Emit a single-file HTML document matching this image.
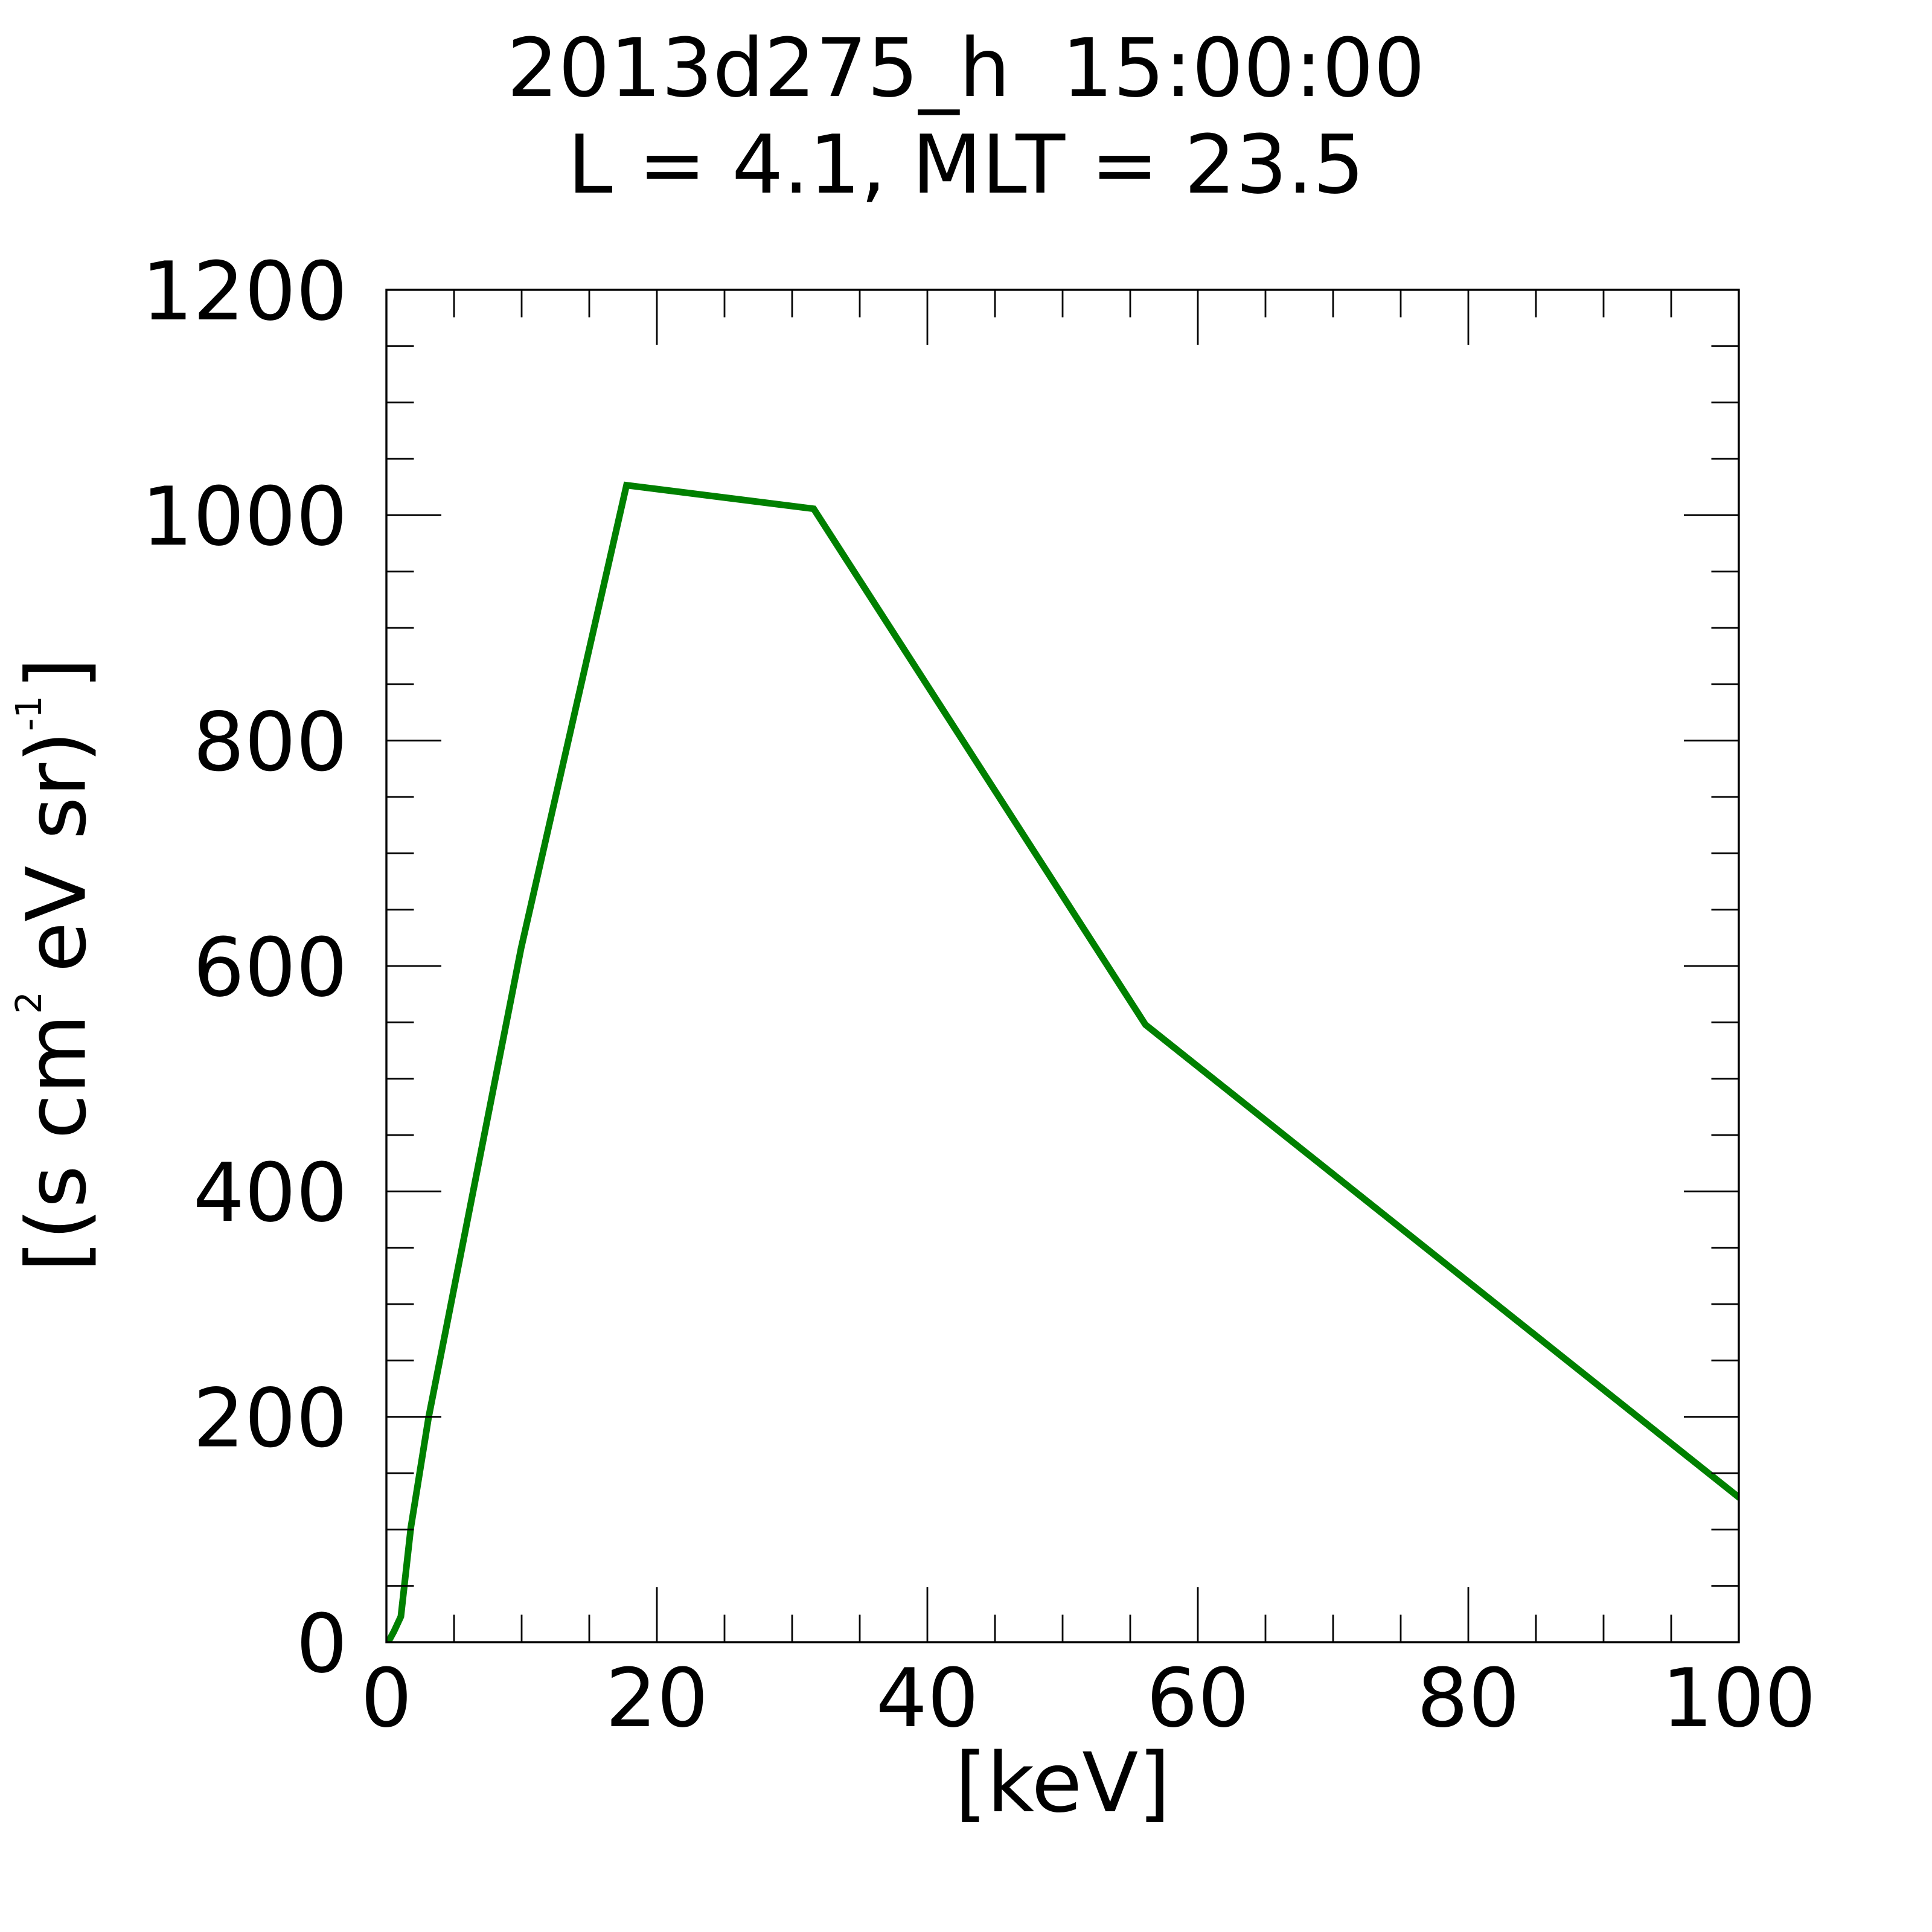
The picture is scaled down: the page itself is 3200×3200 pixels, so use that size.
<!DOCTYPE html>
<html>
<head>
<meta charset="utf-8">
<style>
html,body{margin:0;padding:0;background:#fff;}
svg{display:block;}
text{font-family:"DejaVu Sans","Liberation Sans",sans-serif;fill:#000;}
</style>
</head>
<body>
<svg xmlns="http://www.w3.org/2000/svg" width="3200" height="3200" viewBox="0 0 3200 3200">
<rect x="0" y="0" width="3200" height="3200" fill="#fff"/>

<!-- Title -->
<text x="1600" y="159" font-size="134" text-anchor="middle" style="white-space:pre">2013d275_h  15:00:00</text>
<text x="1600" y="319" font-size="134" text-anchor="middle" style="white-space:pre">L = 4.1, MLT = 23.5</text>

<!-- Data line -->
<defs>
<clipPath id="pc"><rect x="640" y="480" width="2240" height="2240"/></clipPath>
</defs>
<polyline clip-path="url(#pc)" fill="none" stroke="#008000" stroke-width="11" stroke-linejoin="miter"
points="640,2720 645,2716 652.6,2702 664,2677.5 680.5,2530 710,2347 863,1571 1037.7,803.7 1347.7,842.7 1897.3,1697.3 2885,2484"/>

<!-- Axes box -->
<rect x="640" y="480" width="2240" height="2240" fill="none" stroke="#000" stroke-width="3.4"/>

<!-- Minor ticks -->
<path fill="none" stroke="#000" stroke-width="2.8" d="
M752 2720v-45.5 M864 2720v-45.5 M976 2720v-45.5 M1200 2720v-45.5 M1312 2720v-45.5 M1424 2720v-45.5 M1648 2720v-45.5 M1760 2720v-45.5 M1872 2720v-45.5 M2096 2720v-45.5 M2208 2720v-45.5 M2320 2720v-45.5 M2544 2720v-45.5 M2656 2720v-45.5 M2768 2720v-45.5
M752 480v45.5 M864 480v45.5 M976 480v45.5 M1200 480v45.5 M1312 480v45.5 M1424 480v45.5 M1648 480v45.5 M1760 480v45.5 M1872 480v45.5 M2096 480v45.5 M2208 480v45.5 M2320 480v45.5 M2544 480v45.5 M2656 480v45.5 M2768 480v45.5
M640 2626.67h45.5 M640 2533.33h45.5 M640 2440h45.5 M640 2253.33h45.5 M640 2160h45.5 M640 2066.67h45.5 M640 1880h45.5 M640 1786.67h45.5 M640 1693.33h45.5 M640 1506.67h45.5 M640 1413.33h45.5 M640 1320h45.5 M640 1133.33h45.5 M640 1040h45.5 M640 946.67h45.5 M640 760h45.5 M640 666.67h45.5 M640 573.33h45.5
M2880 2626.67h-45.5 M2880 2533.33h-45.5 M2880 2440h-45.5 M2880 2253.33h-45.5 M2880 2160h-45.5 M2880 2066.67h-45.5 M2880 1880h-45.5 M2880 1786.67h-45.5 M2880 1693.33h-45.5 M2880 1506.67h-45.5 M2880 1413.33h-45.5 M2880 1320h-45.5 M2880 1133.33h-45.5 M2880 1040h-45.5 M2880 946.67h-45.5 M2880 760h-45.5 M2880 666.67h-45.5 M2880 573.33h-45.5
"/>

<!-- Major ticks -->
<path fill="none" stroke="#000" stroke-width="2.8" d="
M1088 2720v-91 M1536 2720v-91 M1984 2720v-91 M2432 2720v-91
M1088 480v91 M1536 480v91 M1984 480v91 M2432 480v91
M640 2346.67h91 M640 1973.33h91 M640 1600h91 M640 1226.67h91 M640 853.33h91
M2880 2346.67h-91 M2880 1973.33h-91 M2880 1600h-91 M2880 1226.67h-91 M2880 853.33h-91
"/>

<!-- Y tick labels -->
<g font-size="134" text-anchor="end">
<text x="575.5" y="2769">0</text>
<text x="575.5" y="2395.5">200</text>
<text x="575.5" y="2022">400</text>
<text x="575.5" y="1649">600</text>
<text x="575.5" y="1275.5">800</text>
<text x="575.5" y="902">1000</text>
<text x="575.5" y="529">1200</text>
</g>

<!-- X tick labels -->
<g font-size="134" text-anchor="middle">
<text x="640" y="2859">0</text>
<text x="1088" y="2859">20</text>
<text x="1536" y="2859">40</text>
<text x="1984" y="2859">60</text>
<text x="2432" y="2859">80</text>
<text x="2880" y="2859">100</text>
</g>

<!-- X axis title -->
<text x="1760" y="3000" font-size="136" text-anchor="middle">[keV]</text>

<!-- Y axis title (rotated) -->
<g transform="translate(140.5,1600) rotate(-90)">
<text x="-507" y="0" font-size="136" style="white-space:pre">[(s cm</text>
<text x="-79.6" y="-72.5" font-size="59">2</text>
<text x="-10.5" y="0" font-size="136" style="white-space:pre">eV sr)</text>
<text x="389" y="-72.5" font-size="59">-1</text>
<text x="458" y="0" font-size="136">]</text>
</g>
</svg>
</body>
</html>
